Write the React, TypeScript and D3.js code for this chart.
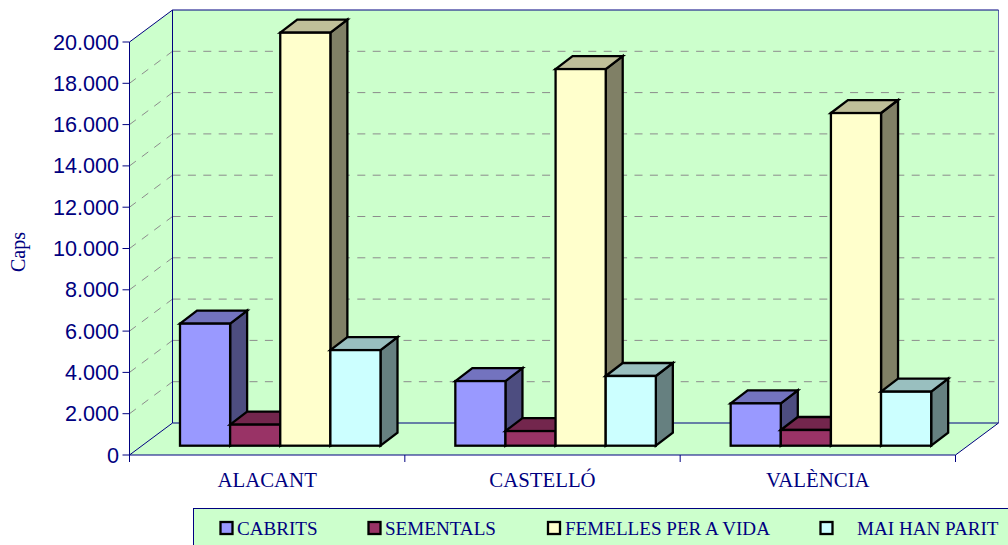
import React from "react";
import * as d3 from "d3";

const categories = ["ALACANT", "CASTELLÓ", "VALÈNCIA"];
const seriesNames = ["CABRITS", "SEMENTALS", "FEMELLES PER A VIDA", "MAI HAN PARIT"];
const cabrits = [5910, 3130, 2050];
const sementals = [1020, 710, 760];
const femelles = [20000, 18240, 16110];
const maiHanParit = [4630, 3375, 2615];
const yTicks = d3.range(0, 20001, 2000);
const front = ["#9999FF", "#993366", "#FFFFCC", "#CCFFFF"];
const top = ["#7373BF", "#73264D", "#BFBF99", "#99BFBF"];
const side = ["#4D4D80", "#4D1A33", "#808066", "#668080"];
const NAVY = "#000080";
const BG = "#CCFFCC";
const seriesValues = [cabrits, sementals, femelles, maiHanParit];

const fmt = (v: number) => (v === 0 ? "0" : d3.format(",")(v).replace(",", "."));

export default function App() {
  const x0 = 129.5, x1 = 955.5, y0 = 455, y20 = 42;
  const dx = 43, dy = 32;
  const y = d3.scaleLinear().domain([0, 20000]).range([y0, y20]);
  const cat = d3.scaleBand<string>().domain(categories).range([x0, x1]);
  const inner = d3.scaleBand<number>().domain([0, 1, 2, 3]).range([50.5, 251]);
  const zy = 9.3, bdx = 17, bdy = 13;
  const pts = (a: number[][]) => a.map((p) => p.join(",")).join(" ");
  const dash = "8 7.4";

  return (
    <svg width={1008} height={545} style={{ position: "absolute", left: 0, top: 0 }}>
      <rect width={1008} height={545} fill="#fff" />
      {/* walls and floor */}
      <polygon points={pts([[x0, y0], [x0 + dx, y0 - dy], [x0 + dx, y20 - dy], [x0, y20]])} fill={BG} />
      <rect x={x0 + dx} y={y20 - dy} width={x1 - x0} height={y0 - y20} fill={BG} />
      <polygon points={pts([[x0, y0], [x0 + dx, y0 - dy], [x1 + dx, y0 - dy], [x1, y0]])} fill={BG} />
      {/* gridlines */}
      {yTicks.slice(1, -1).map((t) => (
        <g key={t} stroke="#8c8c8c" strokeWidth={1} strokeDasharray={dash} fill="none">
          <line x1={x0} y1={y(t)} x2={x0 + dx} y2={y(t) - dy} />
          <line x1={x0 + dx} y1={y(t) - dy} x2={x1 + dx - 4} y2={y(t) - dy} />
        </g>
      ))}
      {/* wall edges */}
      <g stroke={NAVY} strokeWidth={1} fill="none">
        <line x1={x0} y1={y0} x2={x0} y2={y20} />
        <line x1={x0} y1={y20} x2={x0 + dx} y2={y20 - dy} />
        <line x1={x0 + dx} y1={y20 - dy} x2={x0 + dx} y2={y0 - dy} />
        <line x1={x0 + dx} y1={y20 - dy} x2={x1 + dx} y2={y20 - dy} />
        <line x1={x0 + dx} y1={y0 - dy} x2={x1 + dx} y2={y0 - dy} />
        <line x1={x0} y1={y0} x2={x0 + dx} y2={y0 - dy} />
        <line x1={x1} y1={y0} x2={x1 + dx} y2={y0 - dy} />
        <line x1={x0} y1={y0} x2={x1} y2={y0} />
        <line x1={x1 + dx} y1={y20 - dy} x2={x1 + dx} y2={y0 - dy} strokeOpacity={0.6} />
        {yTicks.map((t) => (
          <line key={t} x1={x0 - 7} y1={y(t)} x2={x0} y2={y(t)} />
        ))}
        {[...categories.map((c) => cat(c)!), x1].map((v) => (
          <line key={v} x1={v} y1={y0} x2={v} y2={y0 + 7} />
        ))}
      </g>
      {/* bars */}
      {categories.map((c, ci) => (
        <g key={c} stroke="#000" strokeWidth={2.3} strokeLinejoin="miter">
          {seriesValues.map((vals, si) => {
            const l = cat(c)! + inner(si)!;
            const r = l + inner.bandwidth();
            const b = y0 - zy;
            const t = b - (y0 - y(vals[ci]));
            return (
              <g key={si}>
                <polygon points={pts([[r, b], [r + bdx, b - bdy], [r + bdx, t - bdy], [r, t]])} fill={side[si]} />
                <polygon points={pts([[l, t], [l + bdx, t - bdy], [r + bdx, t - bdy], [r, t]])} fill={top[si]} />
                <rect x={l} y={t} width={r - l} height={b - t} fill={front[si]} />
              </g>
            );
          })}
        </g>
      ))}
      {/* y labels */}
      {yTicks.map((t) => (
        <text key={t} x={119} y={y(t) + 7.5} textAnchor="end" fontFamily="'Liberation Sans'" fontSize={21.6} fill={NAVY}>
          {fmt(t)}
        </text>
      ))}
      <text transform="translate(25,252) rotate(-90)" textAnchor="middle" fontFamily="'Liberation Serif'" fontSize={20} fill={NAVY}>
        Caps
      </text>
      {categories.map((c) => (
        <text key={c} x={cat(c)! + cat.bandwidth() / 2} y={487} textAnchor="middle" fontFamily="'Liberation Serif'" fontSize={20.8} fill={NAVY}>
          {c}
        </text>
      ))}
      {/* legend */}
      <rect x={193.5} y={508.5} width={830} height={50} fill={BG} stroke={NAVY} strokeWidth={1} />
      {seriesNames.map((n, i) => {
        const sx = [220.5, 368.5, 548, 820.5][i];
        const tx = [237, 385, 565, 857][i];
        return (
          <g key={n}>
            <rect x={sx} y={522} width={12} height={12} fill={front[i]} stroke="#000" strokeWidth={2.3} />
            <text x={tx} y={535} fontFamily="'Liberation Serif'" fontSize={19.1} fill={NAVY}>
              {n}
            </text>
          </g>
        );
      })}
    </svg>
  );
}
